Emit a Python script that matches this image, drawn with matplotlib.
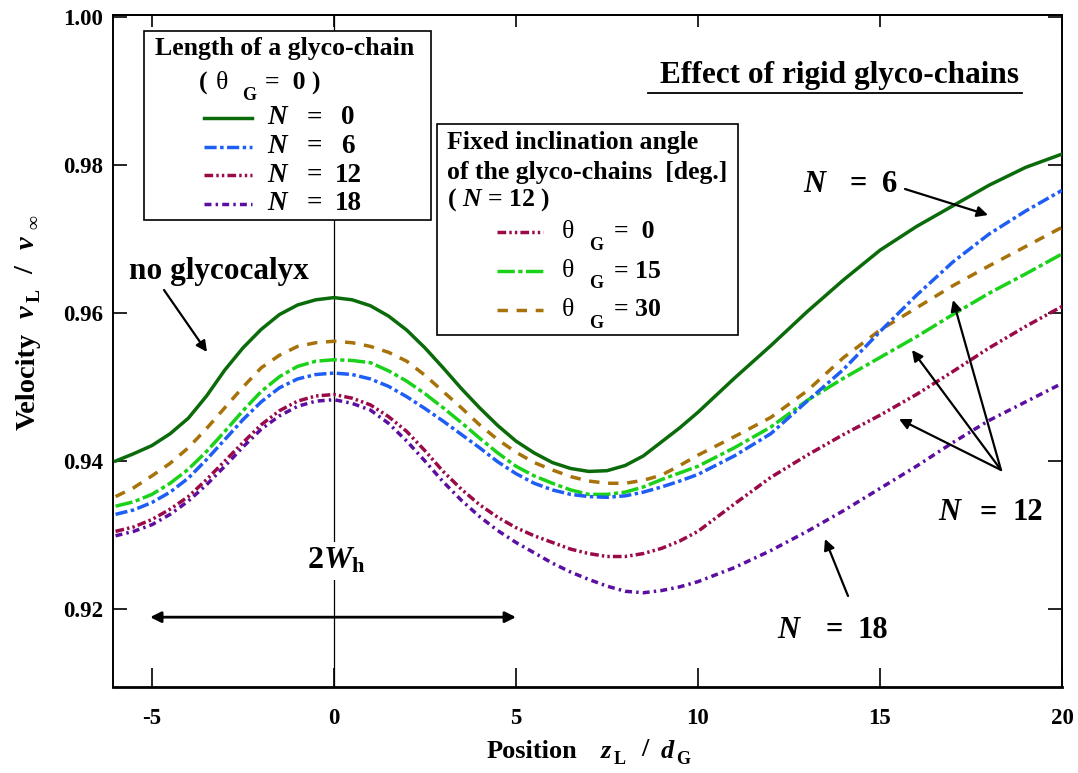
import matplotlib
matplotlib.use('Agg')
import matplotlib.pyplot as plt
from matplotlib.patches import Rectangle
from matplotlib.transforms import Affine2D

plt.rcParams['font.family'] = ['Liberation Serif', 'DejaVu Serif']
plt.rcParams['font.weight'] = 'bold'
plt.rcParams['axes.labelweight'] = 'bold'
plt.rcParams['mathtext.fontset'] = 'custom'
plt.rcParams['mathtext.rm'] = 'Liberation Serif:bold'
plt.rcParams['mathtext.bf'] = 'Liberation Serif:bold'
plt.rcParams['mathtext.it'] = 'Liberation Serif:italic:bold'

# position z_L / d_G
z = [-6, -5.5, -5, -4.5, -4, -3.5, -3, -2.5, -2, -1.5, -1, -0.5, 0,
     0.5, 1, 1.5, 2, 2.5, 3, 3.5, 4, 4.5, 5, 5.5, 6, 6.5, 7, 7.5, 8,
     8.5, 9, 9.5, 10, 11, 12, 13, 14, 15, 16, 17, 18, 19, 20]

# velocity v_L / v_inf
v_n0 = [0.9400, 0.9410, 0.9421, 0.9437, 0.9458, 0.9488, 0.9523, 0.9553, 0.9578,
        0.9598, 0.9611, 0.9618, 0.9621, 0.9618, 0.9610, 0.9596, 0.9577, 0.9553,
        0.9526, 0.9498, 0.9472, 0.9448, 0.9427, 0.9411, 0.9398, 0.9390, 0.9386,
        0.9387, 0.9394, 0.9407, 0.9426, 0.9445, 0.9466,
        0.9512, 0.9556, 0.9602, 0.9645, 0.9685, 0.9717, 0.9745, 0.9773, 0.9797,
        0.9815]
v_n6 = [0.9328, 0.9334, 0.9344, 0.9358, 0.9377, 0.9402, 0.9429, 0.9456, 0.9480,
        0.9499, 0.9511, 0.9517, 0.9519, 0.9517, 0.9511, 0.9501, 0.9487, 0.9471,
        0.9454, 0.9436, 0.9418, 0.9399, 0.9383, 0.9370, 0.9361, 0.9355, 0.9352,
        0.9351, 0.9353, 0.9358, 0.9365, 0.9373, 0.9382,
        0.9407, 0.9437, 0.9481, 0.9524, 0.9575, 0.9624, 0.9669, 0.9707, 0.9738,
        0.9766]
v_n12 = [0.9305, 0.9311, 0.9321, 0.9335, 0.9352, 0.9375, 0.9400, 0.9425, 0.9449,
         0.9468, 0.9481, 0.9488, 0.9490, 0.9485, 0.9476, 0.9460, 0.9440, 0.9414,
         0.9386, 0.9362, 0.9341, 0.9324, 0.9310, 0.9299, 0.9290, 0.9281, 0.9275,
         0.9271, 0.9271, 0.9275, 0.9282, 0.9292, 0.9305,
         0.9342, 0.9378, 0.9408, 0.9436, 0.9462, 0.9490, 0.9521, 0.9553, 0.9582,
         0.9609]
v_n18 = [0.9299, 0.9305, 0.9314, 0.9328, 0.9346, 0.9368, 0.9393, 0.9419, 0.9443,
         0.9461, 0.9474, 0.9481, 0.9483, 0.9478, 0.9469, 0.9451, 0.9427, 0.9400,
         0.9372, 0.9347, 0.9325, 0.9306, 0.9290, 0.9276, 0.9262, 0.9250, 0.9240,
         0.9231, 0.9224, 0.9222, 0.9225, 0.9230, 0.9237,
         0.9256, 0.9279, 0.9305, 0.9333, 0.9363, 0.9393, 0.9425, 0.9455, 0.9480,
         0.9505]
v_t15 = [0.9339, 0.9345, 0.9355, 0.9370, 0.9389, 0.9413, 0.9440, 0.9468, 0.9494,
         0.9514, 0.9528, 0.9535, 0.9537, 0.9536, 0.9533, 0.9522, 0.9508, 0.9491,
         0.9472, 0.9452, 0.9431, 0.9411, 0.9393, 0.9380, 0.9370, 0.9361, 0.9355,
         0.9355, 0.9358, 0.9365, 0.9375, 0.9384, 0.9393,
         0.9418, 0.9446, 0.9482, 0.9512, 0.9540, 0.9568, 0.9598, 0.9627, 0.9653,
         0.9680]
v_t30 = [0.9352, 0.9364, 0.9380, 0.9397, 0.9418, 0.9444, 0.9472, 0.9500, 0.9526,
         0.9543, 0.9555, 0.9560, 0.9562, 0.9560, 0.9555, 0.9547, 0.9535, 0.9516,
         0.9494, 0.9472, 0.9449, 0.9429, 0.9412, 0.9398, 0.9388, 0.9379, 0.9373,
         0.9370, 0.9370, 0.9374, 0.9381, 0.9394, 0.9408,
         0.9433, 0.9459, 0.9495, 0.9540, 0.9577, 0.9607, 0.9637, 0.9664, 0.9690,
         0.9716]

n_labels = ['0', '6', '12', '18']
theta_labels = ['=  0', '= 15', '= 30']

c_n0 = '#0b6b0b'
c_n6 = '#1e5ef5'
c_n12 = '#9a0a48'
c_n18 = '#5b0ea0'
c_t15 = '#1ad21a'
c_t30 = '#a8720a'

ls_n0 = '-'
ls_n6 = (0, (3.5, 1, 1, 1))
ls_n12 = (0, (2.5, 0.9, 0.7, 0.9, 0.7, 0.9))
ls_n18 = (0, (2, 1.2, 0.7, 1.2))
ls_t15 = (0, (5, 1, 1.2, 1))
ls_t30 = (0, (3, 2.5))
LW = 2.5

fig = plt.figure(figsize=(10.78, 7.73), dpi=100)
ax = fig.add_axes([113 / 1078, 1 - 686.7 / 773, 949 / 1078, 671.7 / 773])
# pixel coordinates of the canvas, origin top left
pix = Affine2D().scale(1 / 1078, -1 / 773).translate(0, 1) + fig.transFigure

ax.axvline(0, color='k', lw=0.9, zorder=1)

ax.plot(z, v_n0, color=c_n0, ls=ls_n0, lw=LW, zorder=3)
ax.plot(z, v_t30, color=c_t30, ls=ls_t30, lw=LW, zorder=3)
ax.plot(z, v_t15, color=c_t15, ls=ls_t15, lw=LW, zorder=3)
ax.plot(z, v_n6, color=c_n6, ls=ls_n6, lw=LW, zorder=3)
ax.plot(z, v_n18, color=c_n18, ls=ls_n18, lw=LW, zorder=3)
ax.plot(z, v_n12, color=c_n12, ls=ls_n12, lw=LW, zorder=3)

ax.set_xlim(-6.07, 20)
ax.set_ylim(0.9095, 1.0003)
ax.set_xticks([-5, 0, 5, 10, 15, 20])
ax.set_xticklabels(['-5', '0', '5', '10', '15', '20'])
ax.set_yticks([0.92, 0.94, 0.96, 0.98, 1.00])
ax.set_yticklabels(['0.92', '0.94', '0.96', '0.98', '1.00'])
ax.tick_params(axis='x', direction='in', length=14, width=1.2, top=False,
               labelsize=16.5, pad=15)
ax.tick_params(axis='y', direction='in', length=10, width=1.2, right=True,
               labelsize=16.5, pad=7)
top = ax.secondary_xaxis('top')
top.set_xticks([-5, 0, 5, 10, 15, 20])
top.tick_params(direction='in', length=8.5, width=1.2, labeltop=False)
for sp in list(ax.spines.values()) + list(top.spines.values()):
    sp.set_linewidth(1.4)
ax.spines['bottom'].set_linewidth(2)

# axis titles, set piece by piece for the wide spacing
ax.text(487, 751, 'Position', transform=pix, fontsize=19, ha='left', va='center')
ax.text(600, 751, r'$z$', transform=pix, fontsize=19, ha='left', va='center')
ax.text(614, 759, 'L', transform=pix, fontsize=13, ha='left', va='center')
ax.text(645, 749, '/', transform=pix, fontsize=19, ha='center', va='center')
ax.text(660, 751, r'$d$', transform=pix, fontsize=19, ha='left', va='center')
ax.text(676, 759, 'G', transform=pix, fontsize=13, ha='left', va='center')

ax.text(28, 381, 'Velocity', transform=pix, fontsize=20.5, rotation=90,
        ha='center', va='center')
ax.text(28, 312, r'$v$', transform=pix, fontsize=20.5, rotation=90,
        ha='center', va='center')
ax.text(35, 296, 'L', transform=pix, fontsize=14, rotation=90,
        ha='center', va='center')
ax.text(27, 270, '/', transform=pix, fontsize=20.5, rotation=90,
        ha='center', va='center')
ax.text(28, 243, r'$v$', transform=pix, fontsize=20.5, rotation=90,
        ha='center', va='center')
ax.text(35, 222, '∞', transform=pix, fontsize=14, rotation=90,
        ha='center', va='center')

# title with underline
ax.text(839, 75, 'Effect of rigid glyco-chains', transform=pix, fontsize=22.5,
        ha='center', va='center')
ax.plot([648, 1022], [93, 93], transform=pix, color='k', lw=1.3, clip_on=False)

# legend: length of a glyco-chain
ax.add_patch(Rectangle((144, 31), 286.5, 189, transform=pix, fc='white',
                       ec='k', lw=1.2, zorder=5))
ax.text(155, 49, 'Length of a glyco-chain', transform=pix, fontsize=18.5,
        ha='left', va='center', zorder=6)
ax.text(199, 83, '(', transform=pix, fontsize=18.5, ha='left', va='center', zorder=6)
ax.text(216, 83, 'θ', transform=pix, fontsize=18.5, weight='normal',
        ha='left', va='center', zorder=6)
ax.text(242, 96, 'G', transform=pix, fontsize=13, ha='left', va='center', zorder=6)
ax.text(265, 83, '=  0 )', transform=pix, fontsize=18.5, ha='left', va='center',
        zorder=6)
for i, (lab, col, ls) in enumerate(zip(n_labels, [c_n0, c_n6, c_n12, c_n18],
                                       [ls_n0, ls_n6, ls_n12, ls_n18])):
    yy = 118 + i * 28.5
    ax.plot([204, 252], [yy, yy], transform=pix, color=col, ls=ls, lw=LW,
            clip_on=False, zorder=6)
    ax.text(267, yy, r'$N$', transform=pix, fontsize=19.5, ha='left',
            va='center', zorder=6)
    ax.text(314, yy, '=', transform=pix, fontsize=19.5, ha='center',
            va='center', zorder=6)
    ax.text(348, yy, lab, transform=pix, fontsize=19.5, ha='center',
            va='center', zorder=6)

# legend: inclination angle
ax.add_patch(Rectangle((437, 124), 301, 211, transform=pix, fc='white',
                       ec='k', lw=1.2, zorder=5))
ax.text(447, 143, 'Fixed inclination angle', transform=pix, fontsize=18.5,
        ha='left', va='center', zorder=6)
ax.text(447, 172, 'of the glyco-chains  [deg.]', transform=pix, fontsize=18.5,
        ha='left', va='center', zorder=6)
ax.text(447, 200, r'( $N$ = 12 )', transform=pix, fontsize=18.5,
        ha='left', va='center', zorder=6)
for i, (lab, col, ls) in enumerate(zip(theta_labels, [c_n12, c_t15, c_t30],
                                       [ls_n12, ls_t15, ls_t30])):
    yy = 232 + i * 39
    ax.plot([497, 543], [yy, yy], transform=pix, color=col, ls=ls, lw=LW,
            clip_on=False, zorder=6)
    ax.text(562, yy, 'θ', transform=pix, fontsize=18.5, weight='normal',
            ha='left', va='center', zorder=6)
    ax.text(589, yy + 13, 'G', transform=pix, fontsize=13, ha='left',
            va='center', zorder=6)
    ax.text(614, yy, lab, transform=pix, fontsize=18.5, ha='left',
            va='center', zorder=6)

# annotations
arrow = dict(arrowstyle='-|>', color='k', lw=1.6, mutation_scale=16,
             shrinkA=0, shrinkB=0)
ax.text(129, 271, 'no glycocalyx', transform=pix, fontsize=22.5, ha='left',
        va='center')
ax.annotate('', xy=(207, 352), xytext=(164, 290), xycoords=pix,
            textcoords=pix, arrowprops=arrow)


def n_tag(x_n, x_eq, x_val, y, val):
    ax.text(x_n, y, r'$N$', transform=pix, fontsize=22, ha='left', va='center')
    ax.text(x_eq, y, '=', transform=pix, fontsize=22, ha='center', va='center')
    ax.text(x_val, y, val, transform=pix, fontsize=22, ha='center', va='center')


n_tag(803, 858, 890, 184, '6')
ax.annotate('', xy=(988, 215), xytext=(905, 189), xycoords=pix,
            textcoords=pix, arrowprops=arrow)

n_tag(938, 988, 1028, 513, '12')
for end in [(899, 419), (912, 350), (953, 300)]:
    ax.annotate('', xy=end, xytext=(1001, 470), xycoords=pix,
                textcoords=pix, arrowprops=arrow)

n_tag(777, 834, 873, 630, '18')
ax.annotate('', xy=(825, 539), xytext=(848, 596), xycoords=pix,
            textcoords=pix, arrowprops=arrow)

ax.text(336, 561, r'2$W_{\mathrm{h}}$', transform=pix, fontsize=23,
        ha='center', va='center', zorder=4,
        bbox=dict(fc='white', ec='none', pad=3))
ax.annotate('', xy=(5, 0.9189), xytext=(-5.05, 0.9189),
            arrowprops=dict(arrowstyle='<|-|>', color='k', lw=2,
                            mutation_scale=16, shrinkA=0, shrinkB=0))

fig.savefig('out.png', dpi=100)
